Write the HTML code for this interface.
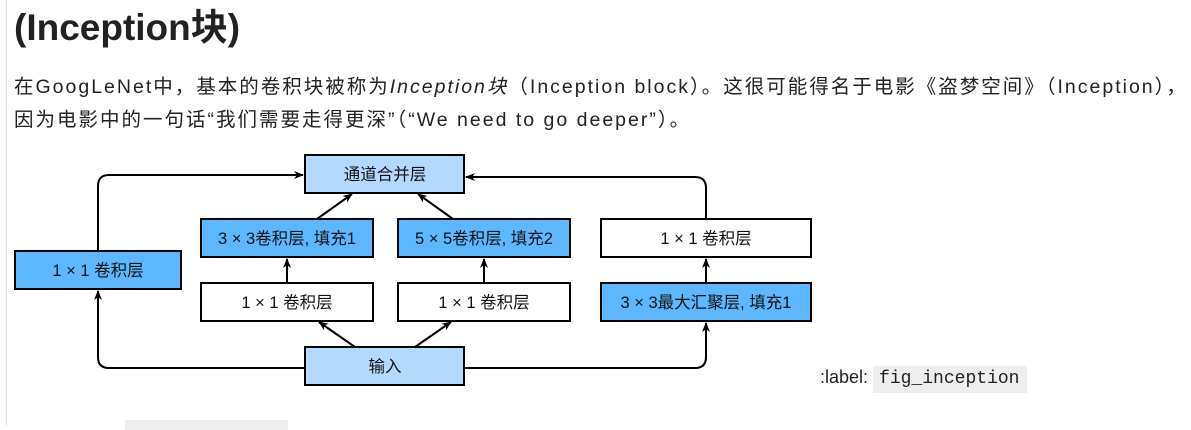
<!DOCTYPE html>
<html><head><meta charset="utf-8"><style>
body{margin:0;width:1191px;height:425px;overflow:hidden;background:#fff;position:relative;font-family:"Liberation Sans","Noto Sans CJK SC",sans-serif;color:#222}
.bar{position:absolute;left:6px;top:0;width:1px;height:425px;background:#ddd}
h1{position:absolute;left:14px;top:-3px;margin:0;font-size:37px;font-weight:bold;white-space:nowrap}
.p{position:absolute;left:14px;font-size:19.5px;letter-spacing:2px;white-space:nowrap;color:#222}
.lbl{position:absolute;left:820px;top:367px;font-size:18px;white-space:nowrap}
.lbl code{font-family:"Liberation Mono",monospace;background:#eee;padding:3px 8px 4px 6px;font-size:18px}
</style></head><body>
<div class="bar"></div>
<h1>(Inception块)</h1>
<div class="p" style="top:70px">在GoogLeNet中，基本的卷积块被称为<i>Inception块</i>（Inception block）。这很可能得名于电影《盗梦空间》（Inception），</div>
<div class="p" style="top:103px">因为电影中的一句话“我们需要走得更深”（“We need to go deeper”）。</div>
<svg style="position:absolute;left:0;top:0" width="1191" height="425" font-family="Liberation Sans, Noto Sans CJK SC, sans-serif" font-size="16.5">
<defs><marker id="a" markerWidth="10" markerHeight="8" refX="9" refY="4" orient="auto" markerUnits="userSpaceOnUse"><path d="M0,0 L10,4 L0,8 L3,4z" fill="#000"/></marker></defs>
<g stroke="#000" stroke-width="2" fill="none">
<path d="M98,251 V186 Q98,175 109,175 H303" marker-end="url(#a)"/>
<path d="M305,368 H109 Q98,368 98,357 V291" marker-end="url(#a)"/>
<path d="M464,368 H695 Q706,368 706,357 V323" marker-end="url(#a)"/>
<path d="M706,283 V259" marker-end="url(#a)"/>
<path d="M706,219 V188 Q706,177 695,177 H466" marker-end="url(#a)"/>
<path d="M317,219 L352,194" marker-end="url(#a)"/>
<path d="M453,219 L418,194" marker-end="url(#a)"/>
<path d="M287,283 V259" marker-end="url(#a)"/>
<path d="M484,283 V259" marker-end="url(#a)"/>
<path d="M355,347 L319,322" marker-end="url(#a)"/>
<path d="M415,347 L451,322" marker-end="url(#a)"/>
</g>
<g stroke="#000" stroke-width="2">
<rect x="305" y="155" width="159" height="38" fill="#b3d9ff"/>
<rect x="201" y="219" width="172" height="38" fill="#5bb8ff"/>
<rect x="398" y="219" width="172" height="38" fill="#5bb8ff"/>
<rect x="15" y="251" width="166" height="38" fill="#5bb8ff"/>
<rect x="201" y="283" width="172" height="38" fill="#fff"/>
<rect x="398" y="283" width="172" height="38" fill="#fff"/>
<rect x="305" y="347" width="159" height="38" fill="#b3d9ff"/>
<rect x="601" y="219" width="210" height="38" fill="#fff"/>
<rect x="601" y="283" width="210" height="38" fill="#5bb8ff"/>
</g>
<g text-anchor="middle" fill="#111">
<text x="385" y="180">通道合并层</text>
<text x="287" y="244">3 × 3卷积层, 填充1</text>
<text x="484" y="244">5 × 5卷积层, 填充2</text>
<text x="98" y="276">1 × 1 卷积层</text>
<text x="287" y="308">1 × 1 卷积层</text>
<text x="484" y="308">1 × 1 卷积层</text>
<text x="385" y="372">输入</text>
<text x="706" y="244">1 × 1 卷积层</text>
<text x="706" y="308">3 × 3最大汇聚层, 填充1</text>
</g>
</svg>
<div class="lbl">:label: <code>fig_inception</code></div>
<div style="position:absolute;left:125px;top:420px;width:163px;height:10px;background:#eee"></div>
</body></html>
